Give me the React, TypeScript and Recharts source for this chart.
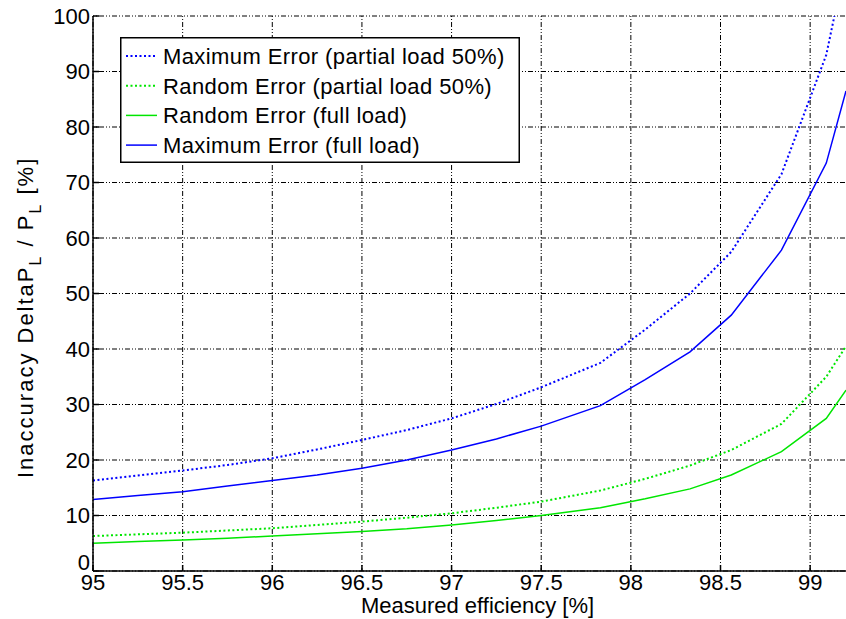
import React from "react";
import {
  LineChart,
  Line,
  XAxis,
  YAxis,
  CartesianGrid,
  Legend,
} from "recharts";

// measured efficiency [%]
const EFFICIENCY = [
  95, 95.25, 95.5, 95.75, 96, 96.25, 96.5, 96.75, 97, 97.25, 97.5, 97.83,
  98.08, 98.33, 98.56, 98.84, 99.09, 99.2,
];

// inaccuracy Delta P_L / P_L [%]
const MAX_ERR_PARTIAL = [
  16.3, 17.2, 18.1, 19.1, 20.3, 21.9, 23.6, 25.4, 27.5, 30.1, 33.1, 37.5,
  43.5, 50, 57.5, 71.5, 93, 110,
];
const RAND_ERR_PARTIAL = [
  6.3, 6.6, 6.9, 7.3, 7.7, 8.3, 8.9, 9.6, 10.4, 11.4, 12.5, 14.5, 16.6, 19,
  21.8, 26.5, 35, 40.5,
];
const RAND_ERR_FULL = [
  5.0, 5.3, 5.6, 5.9, 6.3, 6.7, 7.1, 7.6, 8.3, 9.1, 10.0, 11.4, 13.0, 14.8,
  17.3, 21.5, 27.5, 32.6,
];
const MAX_ERR_FULL = [
  12.9, 13.6, 14.3, 15.3, 16.3, 17.3, 18.5, 20.0, 21.8, 23.8, 26.1, 29.8,
  34.5, 39.5, 46.1, 57.8, 73.5, 86.5,
];

const X_TICKS = [95, 95.5, 96, 96.5, 97, 97.5, 98, 98.5, 99];
const Y_TICKS = [0, 10, 20, 30, 40, 50, 60, 70, 80, 90, 100];

const BLUE = "#0000ff";
const GREEN = "#00e600";
const FONT = "'Liberation Sans', Arial, sans-serif";
const GRID_DASH = "1 2 1 2 5 2";
const AXIS_LINE = { stroke: "#000", strokeWidth: 1.5 };

const SERIES = [
  { key: "maxPartial", name: "Maximum Error (partial load 50%)", color: BLUE, dotted: true, values: MAX_ERR_PARTIAL },
  { key: "randPartial", name: "Random Error (partial load 50%)", color: GREEN, dotted: true, values: RAND_ERR_PARTIAL },
  { key: "randFull", name: "Random Error (full load)", color: GREEN, dotted: false, values: RAND_ERR_FULL },
  { key: "maxFull", name: "Maximum Error (full load)", color: BLUE, dotted: false, values: MAX_ERR_FULL },
];

const chartData = EFFICIENCY.map((eff, i) => {
  const row: Record<string, number> = { eff };
  SERIES.forEach((s) => {
    row[s.key] = s.values[i];
  });
  return row;
});

const LegendBox = () => (
  <svg width={400} height={126} style={{ display: "block" }}>
    <rect x={0.75} y={0.75} width={398.5} height={124.5} fill="#fff" stroke="#000" strokeWidth={1.5} />
    {SERIES.map((s, i) => {
      const cy = 19 + i * 29.7;
      return (
        <g key={s.key}>
          <line
            x1={6}
            x2={37}
            y1={cy}
            y2={cy}
            stroke={s.color}
            strokeWidth={s.dotted ? 2 : 1.5}
            strokeDasharray={s.dotted ? "2 2.5" : undefined}
          />
          <text x={43} y={cy + 8} fontFamily={FONT} fontSize={22} letterSpacing={0.4} fill="#000">
            {s.name}
          </text>
        </g>
      );
    })}
  </svg>
);

const YLabel = () => (
  <text
    transform="translate(33, 478) rotate(-90)"
    fontFamily={FONT}
    fontSize={22}
    letterSpacing={2}
    fill="#000"
  >
    <tspan>Inaccuracy DeltaP</tspan>
    <tspan fontSize={16} dy={8}>L</tspan>
    <tspan dy={-8}> / P</tspan>
    <tspan fontSize={16} dy={8}>L</tspan>
    <tspan dy={-8}>{"  [%]"}</tspan>
  </text>
);

// MATLAB-style: the "0" on the y axis sits a little above the corner
const YTick = (props: any) => {
  const { x, y, payload } = props;
  const shift = payload.value === 0 ? -9 : 0;
  return (
    <text
      x={x}
      y={y + shift}
      dy="0.355em"
      textAnchor="end"
      fontFamily={FONT}
      fontSize={22}
      fill="#000"
    >
      {payload.value}
    </text>
  );
};

const NoTick = () => <g />;

export default function App() {
  return (
    <div style={{ position: "absolute", left: 0, top: 0, width: 846, height: 619, background: "#fff" }}>
      <LineChart
        width={846}
        height={619}
        data={chartData}
        margin={{ top: 16, right: 0, bottom: 0, left: 0 }}
      >
        <CartesianGrid
          stroke="#000"
          strokeWidth={1}
          strokeDasharray={GRID_DASH}
          horizontalValues={Y_TICKS}
          verticalValues={X_TICKS}
        />
        <XAxis
          dataKey="eff"
          type="number"
          domain={[95, 99.2]}
          allowDataOverflow
          ticks={X_TICKS}
          height={48}
          tickSize={-6}
          tickMargin={9}
          axisLine={AXIS_LINE}
          tickLine={AXIS_LINE}
          tick={{ fill: "#000", fontSize: 22, fontFamily: FONT }}
          label={{
            value: "Measured efficiency [%]",
            position: "insideBottom",
            offset: 6,
            dx: 8,
            fill: "#000",
            fontSize: 22,
            fontFamily: FONT,
          }}
        />
        <XAxis
          xAxisId="top"
          orientation="top"
          dataKey="eff"
          type="number"
          domain={[95, 99.2]}
          allowDataOverflow
          ticks={X_TICKS}
          height={0}
          tickSize={-6}
          axisLine={AXIS_LINE}
          tickLine={AXIS_LINE}
          tick={<NoTick />}
        />
        <YAxis
          type="number"
          domain={[0, 100]}
          allowDataOverflow
          ticks={Y_TICKS}
          width={93}
          tickSize={-6}
          tickMargin={9}
          axisLine={AXIS_LINE}
          tickLine={AXIS_LINE}
          tick={<YTick />}
          label={<YLabel />}
        />
        {SERIES.map((s) => (
          <Line
            key={s.key}
            dataKey={s.key}
            name={s.name}
            type="linear"
            stroke={s.color}
            strokeWidth={s.dotted ? 2 : 1.5}
            strokeDasharray={s.dotted ? "2 2.5" : undefined}
            dot={false}
            activeDot={false}
            isAnimationActive={false}
          />
        ))}
        <Legend
          layout="horizontal"
          verticalAlign="middle"
          align="center"
          content={() => <LegendBox />}
          wrapperStyle={{ position: "absolute", left: 120, top: 37, width: 400, height: 126 }}
        />
      </LineChart>
    </div>
  );
}
